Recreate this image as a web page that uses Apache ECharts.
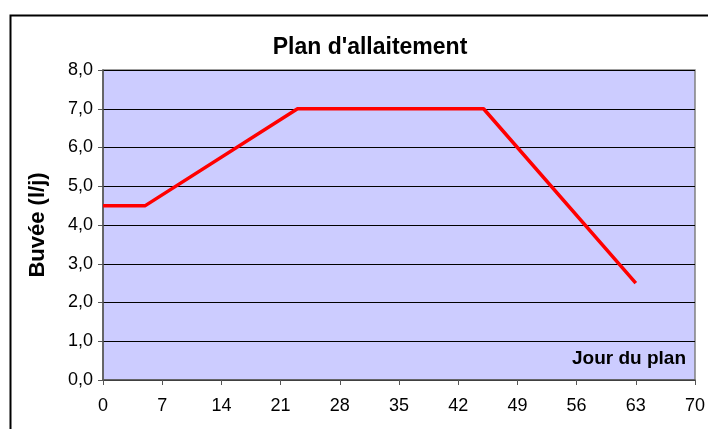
<!DOCTYPE html>
<html>
<head>
<meta charset="utf-8">
<script src="https://cdn.jsdelivr.net/npm/echarts@6/dist/echarts.min.js"></script>
<style>html,body{margin:0;padding:0;background:#fff;}#c{width:708px;height:429px;}</style>
</head>
<body>
<div id="c"></div>
<script>
const days = [0, 5, 23, 45, 63];
const buvee = [4.5, 4.5, 7.0, 7.0, 2.5];
const xTicks = [0, 7, 14, 21, 28, 35, 42, 49, 56, 63, 70];
const yTicks = [0, 1, 2, 3, 4, 5, 6, 7, 8];

const chart = echarts.init(document.getElementById('c'), null, {renderer: 'canvas'});
const font = '"Liberation Sans", Arial, sans-serif';
chart.setOption({
  animation: false,
  backgroundColor: '#fff',
  title: {
    text: "Plan d'allaitement",
    left: 365, top: 31, textAlign: 'center',
    textStyle: {fontFamily: font, fontSize: 23, fontWeight: 'bold', color: '#000'}
  },
  graphic: [
    {type: 'rect', left: 8, top: 13, shape: {width: 740, height: 460},
     style: {fill: 'none', stroke: '#000', lineWidth: 2}, silent: true},
    {type: 'text', right: 22, top: 349,
     style: {text: 'Jour du plan', fontFamily: font, fontSize: 19, fontWeight: 'bold', fill: '#000'}}
  ],
  grid: {left: 103, right: 11, top: 70, bottom: 49, show: true,
         backgroundColor: '#CCCCFF', borderColor: '#808080', borderWidth: 1.5},
  xAxis: {
    type: 'value', min: xTicks[0], max: xTicks[xTicks.length - 1], interval: 7,
    axisLine: {show: true, onZero: false, lineStyle: {color: '#555', width: 1.5}},
    axisTick: {show: true, inside: false, length: 5, lineStyle: {color: '#555'}},
    axisLabel: {fontFamily: font, fontSize: 18, color: '#000', margin: 17},
    splitLine: {show: false}
  },
  yAxis: {
    type: 'value', min: yTicks[0], max: yTicks[yTicks.length - 1], interval: 1,
    name: 'Buvée (l/j)', nameLocation: 'middle', nameGap: 54, nameRotate: 90,
    nameTextStyle: {fontFamily: font, fontSize: 22, fontWeight: 'bold', color: '#000'},
    axisLine: {show: true, lineStyle: {color: '#555', width: 1.5}},
    axisTick: {show: true, inside: false, length: 5, lineStyle: {color: '#555'}},
    axisLabel: {fontFamily: font, fontSize: 18, color: '#000', margin: 10,
      formatter: v => v.toFixed(1).replace('.', ',')},
    splitLine: {show: true, lineStyle: {color: '#000', width: 1}}
  },
  series: [{
    type: 'line',
    data: days.map((d, i) => [d, buvee[i]]),
    showSymbol: false, symbol: 'none',
    lineStyle: {color: '#FF0000', width: 3.5},
    z: 5
  }]
});
</script>
</body>
</html>
